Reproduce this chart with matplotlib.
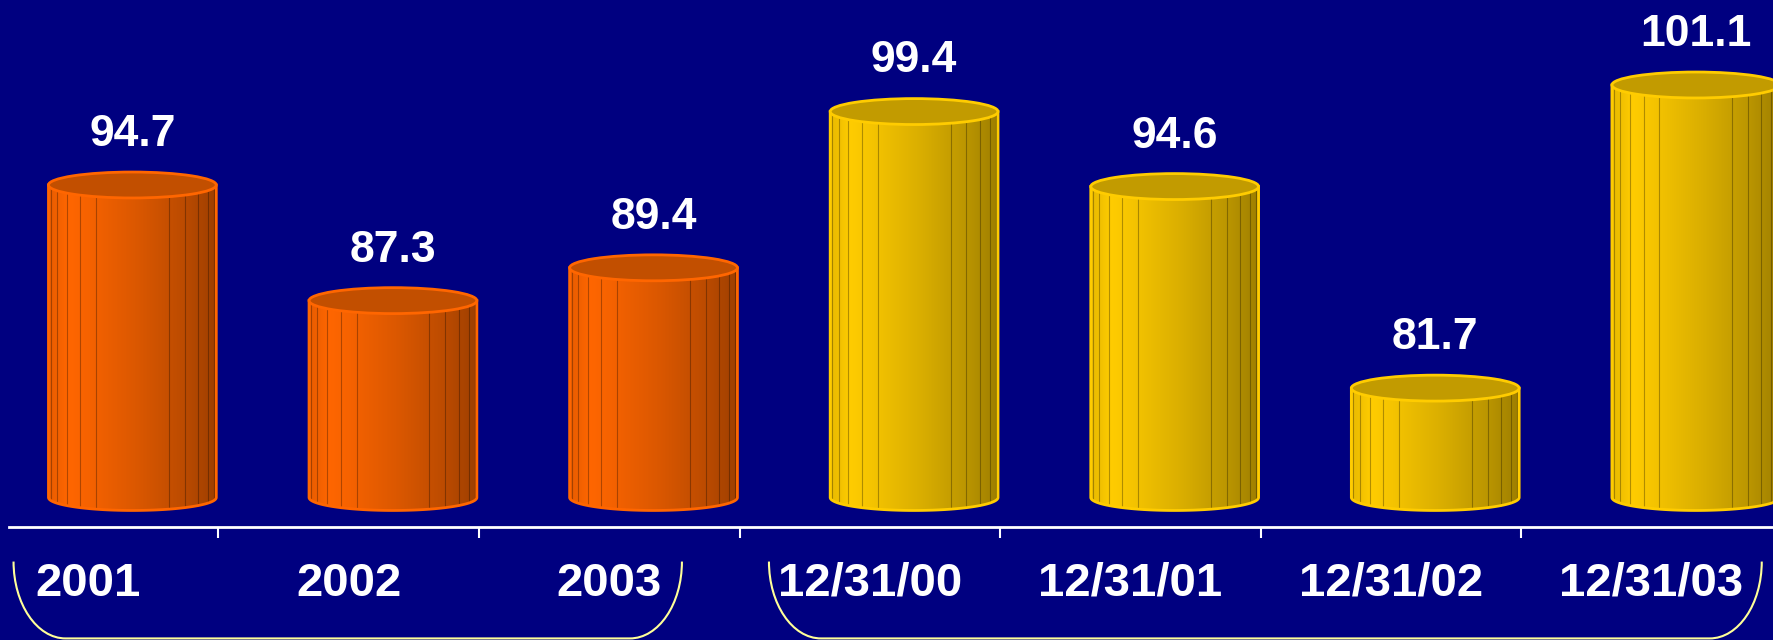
"""
Cylinder bar chart: yearly figures (orange) vs. year-end figures (gold).
"""
import matplotlib
matplotlib.use('Agg')
import matplotlib.pyplot as plt
import numpy as np
from matplotlib import font_manager
from matplotlib.patches import Ellipse, PathPatch, Polygon
from matplotlib.path import Path

# Data
categories = ['2001', '2002', '2003', '12/31/00', '12/31/01', '12/31/02', '12/31/03']
values = [94.7, 87.3, 89.4, 99.4, 94.6, 81.7, 101.1]
groups = [0, 0, 0, 1, 1, 1, 1]

# Styling / layout
BG = '#000080'
side_colors = [(1.0, 0.40, 0.0), (1.0, 0.80, 0.0)]       # bright front colour
top_colors = ['#C24F00', '#C29B00']                       # lid colour
bracket_spans = [(-0.286, 2.279), (2.613, 6.423)]
FLOOR = 74.7          # value level of the cylinder bottoms
AXIS_Y = 72.8         # value level of the category axis line
X_SHIFT = 0.17        # 3-D offset of each cylinder right of its category
RADIUS = 0.322        # half width in category units
LID = 0.83            # half height of lids in value units
XLIM = (-0.338, 6.470)
YLIM = (65.58, 106.54)

names = {f.name for f in font_manager.fontManager.ttflist}
if 'Liberation Sans Narrow' in names:
    cat_font, cat_size = 'Liberation Sans Narrow', 40
else:
    cat_font, cat_size = 'Liberation Sans', 34
val_font = 'Liberation Sans' if 'Liberation Sans' in names else 'DejaVu Sans'

fig = plt.figure(figsize=(17.74, 6.4), dpi=100, facecolor=BG)
ax = fig.add_axes([0, 0, 1, 1], facecolor=BG)


def shade(u):
    """Brightness factor across the front face (u=0 left edge, u=1 right)."""
    return np.interp(u, [0.0, 0.06, 0.12, 0.25, 0.55, 0.80, 1.0],
                     [0.91, 0.95, 1.0, 0.96, 0.85, 0.74, 0.62])


def draw_cylinder(xc, val, base_rgb, top_color):
    base_rgb = np.array(base_rgb)
    tb = np.linspace(np.pi, 0, 80)
    body_x = np.r_[xc - RADIUS, xc + RADIUS * np.cos(tb), xc + RADIUS]
    body_y = np.r_[val, FLOOR - LID * np.sin(tb), val]

    # smooth horizontal gradient clipped to the body outline
    u = np.linspace(0, 1, 300)
    grad = np.clip(base_rgb[None, :] * shade(u)[:, None], 0, 1)[None, :, :]
    body = Polygon(np.c_[body_x, body_y], closed=True, fc='none', ec='none')
    ax.add_patch(body)
    im = ax.imshow(grad, extent=(xc - RADIUS, xc + RADIUS, FLOOR - LID, val),
                   aspect='auto', interpolation='bilinear', zorder=2)
    im.set_clip_path(body)

    # facet lines
    for tt in np.linspace(np.pi, 0, 15)[1:-1]:
        if abs(np.cos(tt)) < 0.35:
            continue
        x = xc + RADIUS * np.cos(tt)
        uu = (x - (xc - RADIUS)) / (2 * RADIUS)
        col = np.clip(base_rgb * shade(uu) * 0.6, 0, 1)
        ax.plot([x, x], [FLOOR - LID * np.sin(tt), val - LID * np.sin(tt)],
                color=col, lw=0.8, alpha=0.75, zorder=3)

    # outline
    ax.plot(body_x, body_y, color=base_rgb, lw=2, zorder=4,
            solid_joinstyle='round')
    # lid
    ax.add_patch(Ellipse((xc, val), 2 * RADIUS, 2 * LID, facecolor=top_color,
                         edgecolor=base_rgb, lw=2, zorder=5))


for i, (cat, val, g) in enumerate(zip(categories, values, groups)):
    xc = i + X_SHIFT
    draw_cylinder(xc, val, side_colors[g], top_colors[g])
    ax.text(xc, val + 2.5, f'{val:.1f}', ha='center', va='baseline',
            color='white', fontsize=32, fontweight='bold', family=val_font,
            zorder=6)
    ax.text(i, 68.4, cat, ha='center', va='baseline', color='white',
            fontsize=cat_size, fontweight='bold', family=cat_font, zorder=6)

ax.set_xlim(*XLIM)
ax.set_ylim(*YLIM)

# category axis line with ticks between categories
for side in ['top', 'left', 'right']:
    ax.spines[side].set_visible(False)
ax.spines['bottom'].set_position(('data', AXIS_Y))
ax.spines['bottom'].set_color('white')
ax.spines['bottom'].set_linewidth(2)
ax.spines['bottom'].set_bounds(-0.3035, XLIM[1])
ax.set_xticks(np.arange(len(categories) - 1) + 0.5)
ax.set_xticklabels([])
ax.tick_params(axis='x', direction='out', length=8, width=1.5, colors='white')
ax.set_yticks([])

# brackets under the two groups
top_y, bot_y, rx = 70.6, 65.68, 0.2
for x0, x1 in bracket_spans:
    k = 0.5523
    ry = top_y - bot_y
    verts = [(x0, top_y),
             (x0, top_y - k * ry), (x0 + rx - k * rx, bot_y), (x0 + rx, bot_y),
             (x1 - rx, bot_y),
             (x1 - rx + k * rx, bot_y), (x1, top_y - k * ry), (x1, top_y)]
    codes = [Path.MOVETO, Path.CURVE4, Path.CURVE4, Path.CURVE4, Path.LINETO,
             Path.CURVE4, Path.CURVE4, Path.CURVE4]
    ax.add_patch(PathPatch(Path(verts, codes), fill=False,
                           edgecolor='#FFFF99', lw=1.5, zorder=6))

fig.savefig('out.png', dpi=100, facecolor=BG)
